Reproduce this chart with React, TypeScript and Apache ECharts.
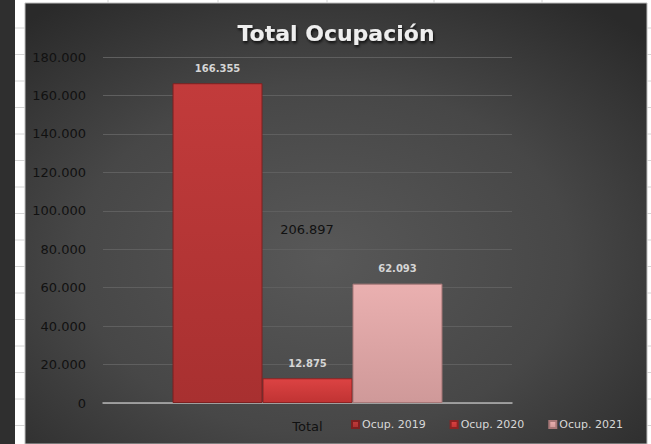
import React, { useEffect, useRef } from "react";
import * as echarts from "echarts";

const categories = ["Total"];
const seriesNames = ["Ocup. 2019", "Ocup. 2020", "Ocup. 2021"];
const values2019 = [166355];
const values2020 = [12875];
const values2021 = [62093];
const totalLabelValue = 206897;
const yTicks = [0, 20000, 40000, 60000, 80000, 100000, 120000, 140000, 160000, 180000];

const fmt = (v: number) => {
  if (v === 0) return "0";
  return Math.round(v).toString().replace(/\B(?=(\d{3})+(?!\d))/g, ".");
};

export default function App() {
  const ref = useRef<HTMLDivElement>(null);
  useEffect(() => {
    document.body.style.margin = "0";
    const chart = echarts.init(ref.current!, undefined, { renderer: "svg" });
    const barColors = [
      ["#c23b3b", "#a83030", "#7d2020"],
      ["#dc4343", "#c03333", "#8d2323"],
      ["#eab0b0", "#cf9999", "#a87878"],
    ];
    const allVals = [values2019, values2020, values2021];
    const cellLines: any[] = [];
    for (let i = 0; i < 17; i++) {
      const y = 1.5 + 26.5 * (i + 1);
      cellLines.push({
        type: "line",
        shape: { x1: 15, y1: y, x2: 25, y2: y },
        style: { stroke: "#d4d4d4", lineWidth: 1 },
        silent: true,
      });
      cellLines.push({
        type: "line",
        shape: { x1: 647, y1: y, x2: 651, y2: y },
        style: { stroke: "#d4d4d4", lineWidth: 1 },
        silent: true,
      });
    }
    [108, 218, 327, 434, 542].forEach((x) => {
      cellLines.push({
        type: "line",
        shape: { x1: x, y1: 0, x2: x, y2: 3 },
        style: { stroke: "#d4d4d4", lineWidth: 1 },
        silent: true,
      });
    });
    chart.setOption({
      animation: false,
      backgroundColor: "#ffffff",
      title: {
        text: "Total Ocupación",
        left: 331,
        textAlign: "center",
        top: 17,
        textStyle: {
          color: "#eeeeee",
          fontFamily: "DejaVu Sans",
          fontWeight: "bold",
          fontSize: 22,
          textShadowColor: "rgba(0,0,0,0.8)",
          textShadowBlur: 3,
          textShadowOffsetX: 1,
          textShadowOffsetY: 2,
        },
      },
      graphic: [
        {
          type: "rect",
          z: -10,
          shape: { x: 0, y: 0, width: 15, height: 444 },
          style: { fill: "#2f2f2f" },
          silent: true,
        },
        {
          type: "rect",
          z: -10,
          shape: { x: 25, y: 3, width: 622, height: 441 },
          style: {
            fill: new echarts.graphic.RadialGradient(0.48, 0.58, 0.72, [
              { offset: 0, color: "#585858" },
              { offset: 0.55, color: "#474747" },
              { offset: 1, color: "#2a2a2a" },
            ]),
            stroke: "#bdbdbd",
            lineWidth: 1,
          },
          silent: true,
        },
        ...cellLines.map((c) => ({ ...c, z: -9 })),
        {
          type: "text",
          x: 307,
          y: 229,
          style: {
            text: fmt(totalLabelValue),
            fill: "#111111",
            font: "13px 'DejaVu Sans'",
            textAlign: "center",
            textVerticalAlign: "middle",
          },
          z: 10,
        },
      ],
      legend: {
        left: 346,
        top: 414,
        itemWidth: 7,
        itemHeight: 7,
        itemGap: 24,
        icon: "rect",
        textStyle: { color: "#d8d8d8", fontSize: 11, fontFamily: "DejaVu Sans", padding: [0, 0, 0, -2] },
        data: seriesNames,
      },
      grid: { left: 103, right: 139, top: 57, bottom: 41, containLabel: false },
      xAxis: {
        type: "category",
        data: categories,
        axisLine: { show: true, lineStyle: { color: "#b5b5b5", width: 1.5 } },
        axisTick: { show: false },
        axisLabel: { color: "#111111", fontSize: 13, fontFamily: "DejaVu Sans", margin: 17 },
      },
      yAxis: {
        type: "value",
        min: 0,
        max: yTicks[yTicks.length - 1],
        interval: 20000,
        axisLine: { show: false },
        axisTick: { show: false },
        splitLine: { lineStyle: { color: "#5f5f5f", width: 1 } },
        axisLabel: {
          color: "#111111",
          fontSize: 13,
          fontFamily: "DejaVu Sans",
          margin: 17,
          formatter: (v: number) => fmt(v),
        },
      },
      series: seriesNames.map((name, i) => ({
        name,
        type: "bar",
        data: allVals[i],
        barGap: "0%",
        barCategoryGap: "34%",
        itemStyle: {
          color: new echarts.graphic.LinearGradient(0, 0, 0, 1, [
            { offset: 0, color: barColors[i][0] },
            { offset: 1, color: barColors[i][1] },
          ]),
          borderColor: barColors[i][2],
          borderWidth: 1,
        },
        label: {
          show: true,
          position: "top",
          distance: 10,
          color: "#d5d5d5",
          fontSize: 10,
          fontWeight: "bold",
          fontFamily: "DejaVu Sans",
          formatter: (p: any) => fmt(p.value),
        },
      })),
    });
    return () => chart.dispose();
  }, []);
  return (
    <div
      ref={ref}
      style={{ position: "fixed", left: 0, top: 0, width: 651, height: 444 }}
    />
  );
}
